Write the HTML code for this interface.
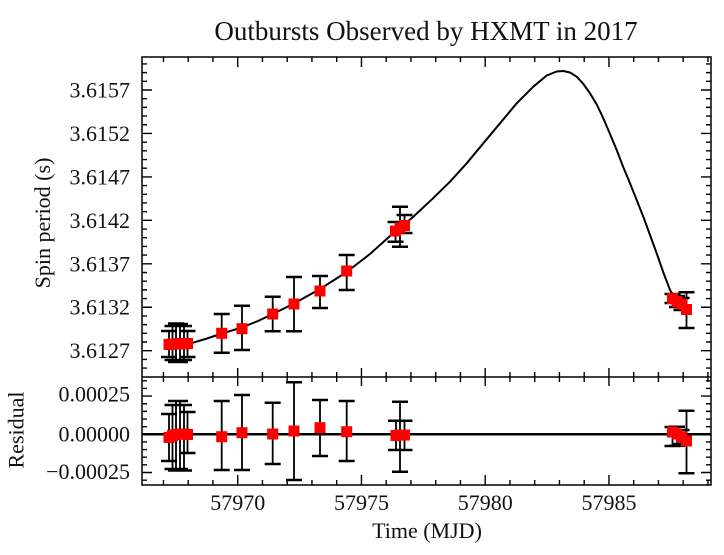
<!DOCTYPE html>
<html><head><meta charset="utf-8"><style>
html,body{margin:0;padding:0;background:#fff;}
svg{display:block;}
text{font-family:"Liberation Serif","DejaVu Serif",serif;fill:#111;}
</style></head><body>
<svg width="724" height="555" viewBox="0 0 724 555" xmlns="http://www.w3.org/2000/svg">
<rect width="724" height="555" fill="#fff"/>
<text x="426" y="40" font-size="27" text-anchor="middle">Outbursts Observed by HXMT in 2017</text>

<!-- curve -->
<polyline fill="none" stroke="#000" stroke-width="2" stroke-linejoin="round" points="165,346 180,344.5 193,342.7 207,338.5 221.7,333.5 242,327.5 258,321 272.7,314 294,303.5 320,289 346.7,272 370,254 390,236 413,217 433,198.3 450,181.7 466.7,163.3 483.3,143.3 500,123.3 516.7,103.3 533.3,86.7 546.7,75.5 556.7,71.5 563.3,71 570,72.5 576.7,76.7 583,83.5 590,93.3 597,105 603.3,118.3 610,134 616.7,150 623,166.5 630,183.3 636.7,200 643.3,216.7 650,235 656.7,253.3 663,271.5 670,290 675,298"/>

<!-- zero line -->
<line x1="142" y1="434.3" x2="711" y2="434.3" stroke="#000" stroke-width="2.5"/>

<!-- frame -->
<rect x="142" y="57" width="569" height="428" fill="none" stroke="#000" stroke-width="1.5"/>
<line x1="142" y1="377" x2="711" y2="377" stroke="#000" stroke-width="1.5"/>

<!-- x ticks -->
<g stroke="#000" stroke-width="1.4" fill="none">
<path d="M163.45 57v5M188.2 57v5M212.95 57v5M237.7 57v10M262.45 57v5M287.2 57v5M311.95 57v5M336.7 57v5M361.45 57v10M386.2 57v5M410.95 57v5M435.7 57v5M460.45 57v5M485.2 57v10M509.95 57v5M534.7 57v5M559.45 57v5M584.2 57v5M608.95 57v10M633.7 57v5M658.45 57v5M683.2 57v5M707.95 57v5"/>
<path d="M163.45 372v10M188.2 372v10M212.95 372v10M237.7 368v18M262.45 372v10M287.2 372v10M311.95 372v10M336.7 372v10M361.45 368v18M386.2 372v10M410.95 372v10M435.7 372v10M460.45 372v10M485.2 368v18M509.95 372v10M534.7 372v10M559.45 372v10M584.2 372v10M608.95 368v18M633.7 372v10M658.45 372v10M683.2 372v10M707.95 372v10"/>
<path d="M163.45 485v-5M188.2 485v-5M212.95 485v-5M237.7 485v-10M262.45 485v-5M287.2 485v-5M311.95 485v-5M336.7 485v-5M361.45 485v-10M386.2 485v-5M410.95 485v-5M435.7 485v-5M460.45 485v-5M485.2 485v-10M509.95 485v-5M534.7 485v-5M559.45 485v-5M584.2 485v-5M608.95 485v-10M633.7 485v-5M658.45 485v-5M683.2 485v-5M707.95 485v-5"/>
<!-- top panel left ticks -->
<path d="M142 63.93h5M142 72.62h5M142 81.31h5M142 90h10M142 98.69h5M142 107.38h5M142 116.07h5M142 124.76h5M142 133.45h10M142 142.14h5M142 150.83h5M142 159.52h5M142 168.21h5M142 176.9h10M142 185.59h5M142 194.28h5M142 202.97h5M142 211.66h5M142 220.35h10M142 229.04h5M142 237.73h5M142 246.42h5M142 255.11h5M142 263.8h10M142 272.49h5M142 281.18h5M142 289.87h5M142 298.56h5M142 307.25h10M142 315.94h5M142 324.63h5M142 333.32h5M142 342.01h5M142 350.7h10M142 359.39h5M142 368.08h5"/>
<path d="M711 63.93h-5M711 72.62h-5M711 81.31h-5M711 90h-10M711 98.69h-5M711 107.38h-5M711 116.07h-5M711 124.76h-5M711 133.45h-10M711 142.14h-5M711 150.83h-5M711 159.52h-5M711 168.21h-5M711 176.9h-10M711 185.59h-5M711 194.28h-5M711 202.97h-5M711 211.66h-5M711 220.35h-10M711 229.04h-5M711 237.73h-5M711 246.42h-5M711 255.11h-5M711 263.8h-10M711 272.49h-5M711 281.18h-5M711 289.87h-5M711 298.56h-5M711 307.25h-10M711 315.94h-5M711 324.63h-5M711 333.32h-5M711 342.01h-5M711 350.7h-10M711 359.39h-5M711 368.08h-5"/>
<!-- residual ticks -->
<path d="M142 380.82h5M142 388.46h5M142 396.1h10M142 403.74h5M142 411.38h5M142 419.02h5M142 426.66h5M142 434.3h10M142 441.94h5M142 449.58h5M142 457.22h5M142 464.86h5M142 472.5h10M142 480.14h5"/>
<path d="M711 380.82h-5M711 388.46h-5M711 396.1h-10M711 403.74h-5M711 411.38h-5M711 419.02h-5M711 426.66h-5M711 434.3h-10M711 441.94h-5M711 449.58h-5M711 457.22h-5M711 464.86h-5M711 472.5h-10M711 480.14h-5"/>
</g>

<!-- tick labels -->
<g font-size="22" text-anchor="end">
<text x="130" y="97.5">3.6157</text>
<text x="130" y="141">3.6152</text>
<text x="130" y="184.4">3.6147</text>
<text x="130" y="227.8">3.6142</text>
<text x="130" y="271.3">3.6137</text>
<text x="130" y="314.7">3.6132</text>
<text x="130" y="358.2">3.6127</text>
<text x="130" y="401.5">0.00025</text>
<text x="130" y="441.7">0.00000</text>
<text x="130" y="479">−0.00025</text>
</g>
<g font-size="22" text-anchor="middle">
<text x="237.7" y="510">57970</text>
<text x="361.45" y="510">57975</text>
<text x="485.2" y="510">57980</text>
<text x="608.95" y="510">57985</text>
<text x="427" y="538">Time (MJD)</text>
</g>
<text font-size="22" text-anchor="middle" transform="translate(50,223) rotate(-90)">Spin period (s)</text>
<text font-size="22" text-anchor="middle" transform="translate(23.5,430) rotate(-90)">Residual</text>

<!-- error bars -->
<g stroke="#000" fill="none">
<path stroke-width="1.8" d="M169 331V357M172.5 326V360M176 323.5V362M180 324V362M184 326V360M187.5 331V357M221.7 314V352.7M242 305.7V350M272.7 296.7V331.3M294 277V331.3M320 276V308M346.7 255V290M395.5 222V241.7M400 206.7V246.7M404.5 215V233M672.5 294V303M677 296V307M681.5 298V310M686.5 292.3V328
M169 414V461M172.5 405V469M176 401V470.5M180 401V469M184 405V470.5M187.5 412V453M221.7 401V470M242 395V470M272.7 402.7V464M294 382.3V480M320 400V456M346.7 401V461M396 420.7V450M400 401.7V471.7M404.5 420.7V450M672.5 427V446M677 426.7V445.7M681.5 430V444M686.5 410.7V473.3"/>
<path stroke-width="2.5" d="M161 331h16M164.5 326h16M168 323.5h16M172 324h16M176 326h16M179.5 331h16M161 357h16M164.5 360h16M168 362h16M172 362h16M176 360h16M179.5 357h16
M213.7 314h16M213.7 352.7h16M234 305.7h16M234 350h16M264.7 296.7h16M264.7 331.3h16M286 277h16M286 331.3h16M312 276h16M312 308h16M338.7 255h16M338.7 290h16
M387.5 222h16M387.5 241.7h16M392 206.7h16M392 246.7h16M396.5 215h16M396.5 233h16
M664.5 294h16M664.5 303h16M669 296h16M669 307h16M673.5 298h16M673.5 310h16M678.5 292.3h16M678.5 328h16
M161 414h16M164.5 405h16M168 401h16M172 401h16M176 405h16M179.5 412h16M161 461h16M164.5 469h16M168 470.5h16M172 469h16M176 470.5h16M179.5 453h16
M213.7 401h16M213.7 470h16M234 395h16M234 470h16M264.7 402.7h16M264.7 464h16M286 382.3h16M286 480h16M312 400h16M312 456h16M338.7 401h16M338.7 461h16
M388 420.7h16M388 450h16M392 401.7h16M392 471.7h16M396.5 420.7h16M396.5 450h16
M664.5 427h16M664.5 446h16M669 426.7h16M669 445.7h16M673.5 430h16M673.5 444h16M678.5 410.7h16M678.5 473.3h16"/>
</g>

<!-- squares -->
<g fill="#ff0000">
<rect x="163.5" y="339" width="11" height="11"/>
<rect x="167" y="338.5" width="11" height="11"/>
<rect x="170.5" y="338.5" width="11" height="11"/>
<rect x="174.5" y="338" width="11" height="11"/>
<rect x="178.5" y="338.5" width="11" height="11"/>
<rect x="182" y="338" width="11" height="11"/>
<rect x="216.2" y="327.8" width="11" height="11"/>
<rect x="236.5" y="323.2" width="11" height="11"/>
<rect x="267.2" y="308.5" width="11" height="11"/>
<rect x="288.5" y="298.5" width="11" height="11"/>
<rect x="314.5" y="285.5" width="11" height="11"/>
<rect x="341.2" y="265.5" width="11" height="11"/>
<rect x="390" y="225.5" width="11" height="11"/>
<rect x="394.5" y="222.5" width="11" height="11"/>
<rect x="399" y="220" width="11" height="11"/>
<rect x="667" y="293" width="11" height="11"/>
<rect x="671.5" y="296" width="11" height="11"/>
<rect x="676" y="298.5" width="11" height="11"/>
<rect x="681" y="304" width="11" height="11"/>

<rect x="163.5" y="432" width="11" height="11"/>
<rect x="167" y="430" width="11" height="11"/>
<rect x="170.5" y="429" width="11" height="11"/>
<rect x="174.5" y="428.5" width="11" height="11"/>
<rect x="178.5" y="428.5" width="11" height="11"/>
<rect x="182" y="429" width="11" height="11"/>
<rect x="216.2" y="431.2" width="11" height="11"/>
<rect x="236.5" y="427.2" width="11" height="11"/>
<rect x="267.2" y="428.5" width="11" height="11"/>
<rect x="288.5" y="425.5" width="11" height="11"/>
<rect x="314.5" y="422.2" width="11" height="11"/>
<rect x="341.2" y="426.2" width="11" height="11"/>
<rect x="390.5" y="430" width="11" height="11"/>
<rect x="394.5" y="429.5" width="11" height="11"/>
<rect x="399" y="429.5" width="11" height="11"/>
<rect x="667" y="426.5" width="11" height="11"/>
<rect x="671.5" y="428.5" width="11" height="11"/>
<rect x="676" y="431.5" width="11" height="11"/>
<rect x="681" y="435.5" width="11" height="11"/>
</g>
</svg>
</body></html>
